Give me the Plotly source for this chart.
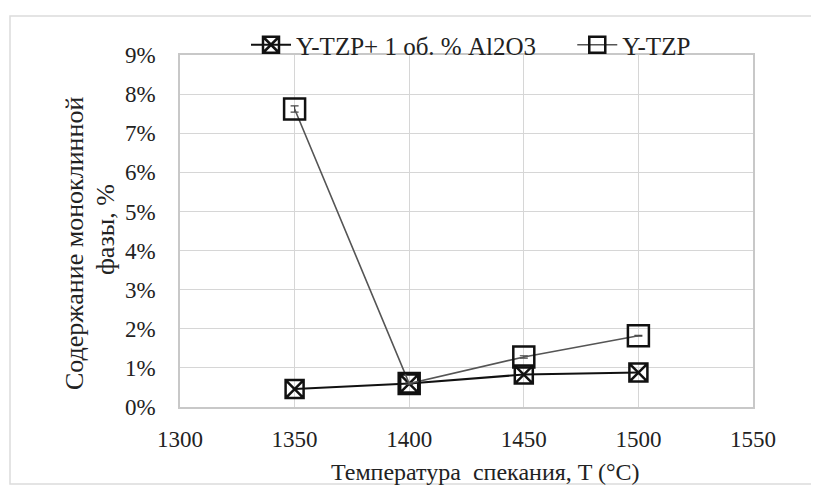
import plotly.graph_objects as go

temps = [1350, 1400, 1450, 1500]
al2o3_vals = [0.0046, 0.0060, 0.0083, 0.0088]
ytzp_vals = [0.0762, 0.0060, 0.0128, 0.0182]
ytzp_err = [0.0008, 0.0002, 0.0003, 0.0001]

x_ticks = [1300, 1350, 1400, 1450, 1500, 1550]
y_ticks = [0, 0.01, 0.02, 0.03, 0.04, 0.05, 0.06, 0.07, 0.08, 0.09]
y_labels = ["0%", "1%", "2%", "3%", "4%", "5%", "6%", "7%", "8%", "9%"]

FONT = "Liberation Serif"
TXT = "#222222"

# screen-pixel layout of the plot area (page has 8px body offset)
PL, PR, PT, PB = 180, 753, 55, 407
def px(sx):
    return (sx - PL) / (PR - PL)
def py(sy):
    return (PB - sy) / (PB - PT)

NB = "\u00a0"

fig = go.Figure()
fig.add_trace(go.Scatter(
    x=temps, y=al2o3_vals, name="Y-TZP+ 1 об. % Al2O3" + NB * 5,
    mode="lines+markers",
    line=dict(color="#111111", width=2),
    marker=dict(symbol="square-x-open", size=18, color="#111111",
                line=dict(width=2.5, color="#111111")),
))
fig.add_trace(go.Scatter(
    x=temps, y=ytzp_vals, name="Y-TZP",
    mode="lines+markers",
    line=dict(color="#555555", width=1.6),
    marker=dict(symbol="square-open", size=21, color="#111111",
                line=dict(width=2.5, color="#111111")),
    error_y=dict(type="data", array=ytzp_err, color="#444444", thickness=1.2, width=4),
))

fig.update_layout(
    width=819, height=486,
    margin=dict(l=PL - 8, r=819 - (PR - 8), t=PT - 8, b=486 - (PB - 8), autoexpand=False),
    paper_bgcolor="white", plot_bgcolor="white",
    font=dict(family=FONT, size=23, color=TXT),
    showlegend=True,
    legend=dict(orientation="h", x=px(471), xanchor="center", y=py(45), yanchor="middle",
                font=dict(family=FONT, size=25, color=TXT),
                bgcolor="rgba(0,0,0,0)", itemwidth=40, tracegroupgap=0),
    xaxis=dict(
        range=[1300, 1550], tickvals=x_ticks, ticktext=[str(v) for v in x_ticks],
        showgrid=True, gridcolor="#d6d6d6", gridwidth=1,
        showline=True, linecolor="#c8c8c8", linewidth=1.5, mirror=True,
        zeroline=False, ticks="", ticklabelstandoff=11, automargin=False,
        tickfont=dict(family=FONT, size=23, color=TXT),
    ),
    yaxis=dict(
        range=[0, 0.09], tickvals=y_ticks, ticktext=y_labels,
        showgrid=True, gridcolor="#d6d6d6", gridwidth=1,
        showline=True, linecolor="#c8c8c8", linewidth=1.5, mirror=True,
        zeroline=False, ticks="", ticklabelstandoff=18, automargin=False,
        tickfont=dict(family=FONT, size=23, color=TXT),
    ),
    annotations=[
        dict(text="Температура  спекания, T (°C)", xref="paper", yref="paper",
             x=px(485), y=py(472), xanchor="center", yanchor="middle",
             showarrow=False, font=dict(family=FONT, size=24, color=TXT)),
        dict(text="Содержание моноклинной", xref="paper", yref="paper",
             x=px(75), y=py(244), xanchor="center", yanchor="middle", textangle=-90,
             showarrow=False, font=dict(family=FONT, size=26, color=TXT)),
        dict(text="фазы, %", xref="paper", yref="paper",
             x=px(105), y=py(230), xanchor="center", yanchor="middle", textangle=-90,
             showarrow=False, font=dict(family=FONT, size=26, color=TXT)),
    ],
    shapes=[dict(type="rect", xref="paper", yref="paper",
                 x0=px(10), x1=px(814), y0=py(484), y1=py(16),
                 line=dict(color="#dcdcdc", width=1.5), layer="below")],
)

fig.write_html("out.html")
